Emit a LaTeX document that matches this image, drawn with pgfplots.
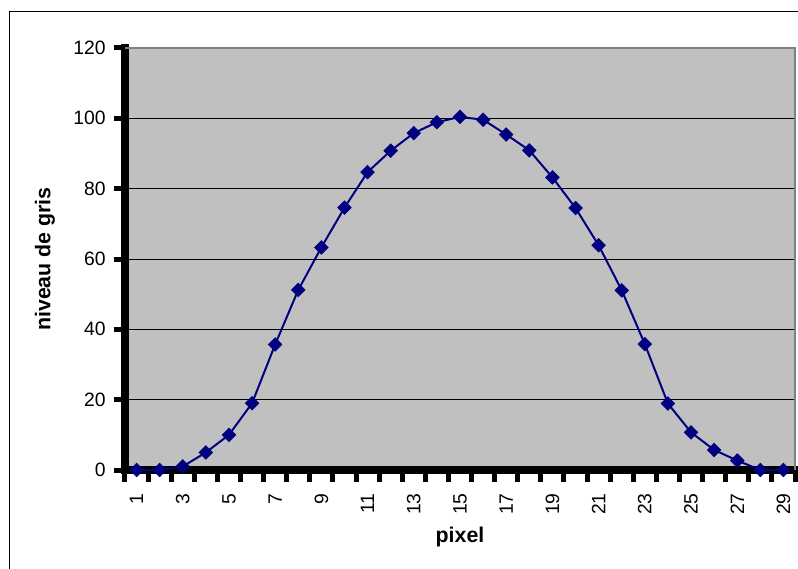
\documentclass[border=0pt]{standalone}
\usepackage{fontspec}
\setmainfont{Liberation Sans}
\usepackage{pgfplots}
\pgfplotsset{compat=1.18}
\definecolor{plotgray}{RGB}{192,192,192}
\definecolor{serie}{RGB}{0,0,128}
\begin{document}
\begin{tikzpicture}
\useasboundingbox (-93.75pt,-73.5pt) rectangle (504.75pt,352.5pt);
\begin{axis}[
    at={(0pt,0pt)}, anchor=south west,
    scale only axis,
    width=502.5pt, height=316.5pt,
    xmin=0.5, xmax=29.5,
    ymin=0, ymax=120,
    ytick={0,20,...,120},
    xtick={1,3,...,29},
    minor xtick={0.5,1.5,...,29.5},
    major x tick style={draw=none},
    minor x tick style={line width=3.75pt, black},
    minor tick length=9pt,
    major tick length=8pt,
    y tick style={line width=3.75pt, black},
    tick align=outside,
    axis x line*=bottom, axis y line*=left,
    x axis line style={-, line width=5.5pt, line cap=rect},
    y axis line style={-, line width=5.5pt, line cap=rect},
    axis background/.style={fill=plotgray},
    ymajorgrids=true,
    major grid style={black, line width=0.75pt},
    /pgf/number format/assume math mode=true,
    tick label style={font=\fontsize{14.5}{16}\selectfont},
    xticklabel style={rotate=90, anchor=east, xshift=-6pt},
    yticklabel style={xshift=-3pt},
    xlabel={pixel}, ylabel={niveau de gris},
    every axis x label/.style={at={(axis description cs:0.5,0)}, yshift=-50pt, anchor=center,
        font=\fontsize{16}{18}\selectfont\bfseries},
    every axis y label/.style={at={(axis description cs:0,0.5)}, xshift=-60pt, rotate=90, anchor=center,
        font=\fontsize{16}{18}\selectfont\bfseries},
    clip=false,
]
\draw[gray, line width=1.5pt] (rel axis cs:0,1) -- (rel axis cs:1,1) -- (rel axis cs:1,0);
\addplot[color=serie, line width=1.5pt, mark=square*, mark size=3.6pt,
    mark options={rotate=45, fill=serie, draw=serie, line width=0.5pt}]
    coordinates {
    (1,0)(2,0)(3,1)(4,5)(5,10)(6,19)(7,35.7)(8,51.2)(9,63.3)(10,74.6)
    (11,84.7)(12,90.8)(13,95.8)(14,98.9)(15,100.4)(16,99.6)(17,95.4)(18,90.9)
    (19,83.2)(20,74.5)(21,63.9)(22,51.1)(23,35.8)(24,18.9)(25,10.7)(26,5.7)
    (27,2.7)(28,0)(29,0)
    };
\end{axis}
\draw[black, line width=0.75pt] (-86.25pt,-80pt) -- (-86.25pt,343.5pt) -- (510pt,343.5pt);
\end{tikzpicture}
\end{document}
